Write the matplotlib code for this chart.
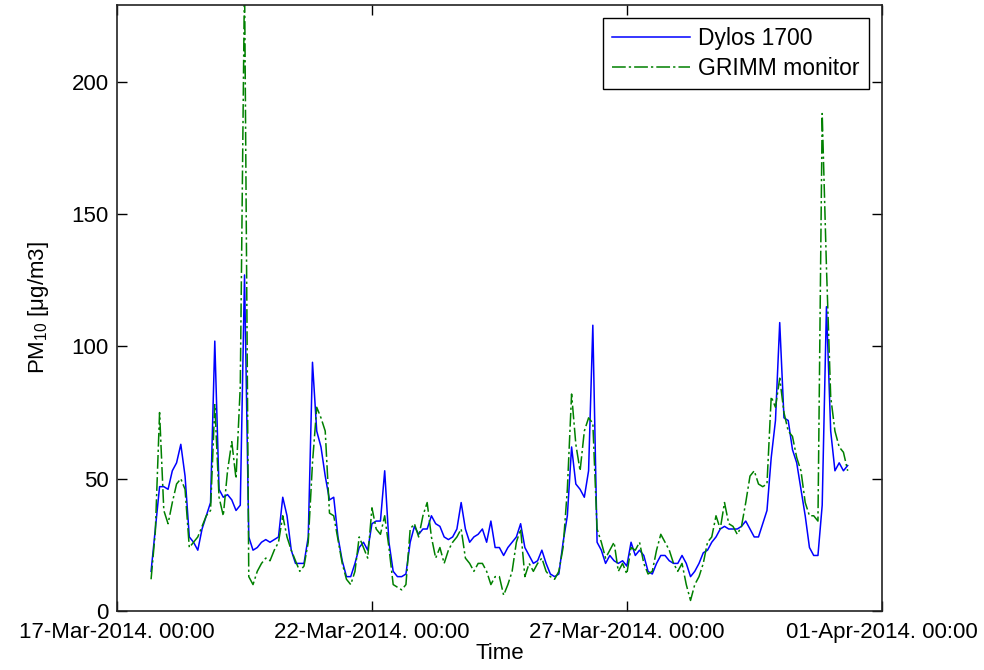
import matplotlib
matplotlib.use("Agg")
import matplotlib.pyplot as plt
import matplotlib.dates as mdates
import numpy as np
import pandas as pd

# PM10 readings every 2 hours, starting 17-Mar-2014 16:00
start_time = "2014-03-17 16:00"

dylos = [15, 31, 47, 47, 46, 53, 56, 63, 51, 28, 26, 23, 31, 36, 41, 102,
         46, 43, 44, 42, 38, 40, 127, 28, 23, 24, 26, 27, 26, 27, 28, 43,
         36, 23, 18, 18, 18, 28, 94, 68, 62, 51, 42, 43, 28, 19, 13, 13,
         18, 24, 26, 23, 33, 34, 34, 53, 26, 15, 13, 13, 14, 26, 32, 29,
         31, 31, 36, 33, 32, 28, 27, 28, 31, 41, 31, 26, 28, 29, 31, 26,
         34, 24, 24, 21, 24, 26, 28, 33, 24, 21, 18, 19, 23, 18, 14, 13,
         14, 26, 36, 62, 48, 46, 43, 53, 108, 26, 23, 18, 21, 19, 18, 19,
         17, 26, 21, 23, 21, 15, 14, 18, 21, 21, 19, 18, 18, 21, 18, 13,
         15, 18, 22, 23, 26, 28, 31, 32, 31, 31, 31, 32, 34, 31, 28, 28,
         33, 38, 58, 72, 109, 73, 72, 61, 56, 46, 36, 24, 21, 21, 40, 115,
         68, 53, 56, 53, 55]

grimm = [12, 30, 75, 38, 33, 41, 48, 50, 46, 24, 26, 28, 32, 36, 38, 78,
         43, 36, 53, 64, 50, 85, 240, 13, 10, 15, 18, 20, 19, 23, 26, 36,
         28, 23, 19, 15, 17, 26, 56, 77, 73, 68, 37, 36, 27, 18, 12, 10,
         15, 28, 24, 20, 39, 31, 29, 36, 24, 10, 9, 8, 10, 31, 33, 28,
         36, 41, 28, 20, 24, 18, 23, 26, 28, 31, 20, 18, 15, 18, 18, 15,
         10, 13, 13, 6, 10, 15, 26, 31, 13, 18, 15, 18, 20, 15, 13, 12,
         15, 24, 46, 82, 63, 53, 68, 73, 71, 31, 26, 20, 23, 26, 15, 18,
         14, 24, 23, 26, 18, 14, 15, 23, 29, 26, 23, 18, 15, 18, 10, 4,
         10, 13, 18, 26, 28, 36, 31, 41, 33, 32, 29, 32, 41, 51, 53, 48,
         47, 48, 81, 77, 88, 75, 68, 66, 58, 53, 41, 36, 36, 34, 188, 130,
         81, 68, 62, 60, 53]

tick_dates = ["2014-03-17", "2014-03-22", "2014-03-27", "2014-04-01"]
y_ticks = [0, 50, 100, 150, 200]

times = pd.date_range(start_time, periods=len(dylos), freq="2h")

plt.rcParams["font.family"] = ["Liberation Sans", "DejaVu Sans"]
plt.rcParams["mathtext.fontset"] = "custom"
plt.rcParams["mathtext.rm"] = "Liberation Sans"
plt.rcParams["mathtext.default"] = "regular"

fig = plt.figure(figsize=(9.84, 6.70), dpi=100)
ax = fig.add_axes([0.119, 0.088, 0.777, 0.9045])

ax.plot(times, dylos, color=(0, 0, 1), lw=1.1, label="Dylos 1700")
ax.plot(times, grimm, color=(0, 0.5, 0), lw=1.1, dashes=(9, 2, 1.5, 2),
        label="GRIMM monitor")

ax.set_xlim(pd.Timestamp(tick_dates[0]), pd.Timestamp(tick_dates[-1]))
ax.set_ylim(0, 229)
ax.set_xticks([pd.Timestamp(d) for d in tick_dates])
ax.xaxis.set_major_formatter(mdates.DateFormatter("%d-%b-%Y. %H:%M"))
ax.set_yticks(y_ticks)

ax.tick_params(direction="in", length=7, width=1, top=True, right=True,
               labelsize=16, colors="k", pad=6)
ax.tick_params(axis="x", pad=8)
for sp in ax.spines.values():
    sp.set_linewidth(1.2)
    sp.set_color("#222222")

ax.set_xlabel("Time", fontsize=16, labelpad=0)
ax.set_ylabel("PM$_{10}$ [\u03bcg/m3]", fontsize=16, labelpad=15)

leg = ax.legend(loc="upper right", fontsize=16.5, fancybox=False,
                framealpha=1, edgecolor="k", handlelength=3.4,
                handletextpad=0.35, borderaxespad=0.55, labelspacing=0.3)
leg.get_frame().set_linewidth(1.0)

fig.savefig("out.png", dpi=100)
